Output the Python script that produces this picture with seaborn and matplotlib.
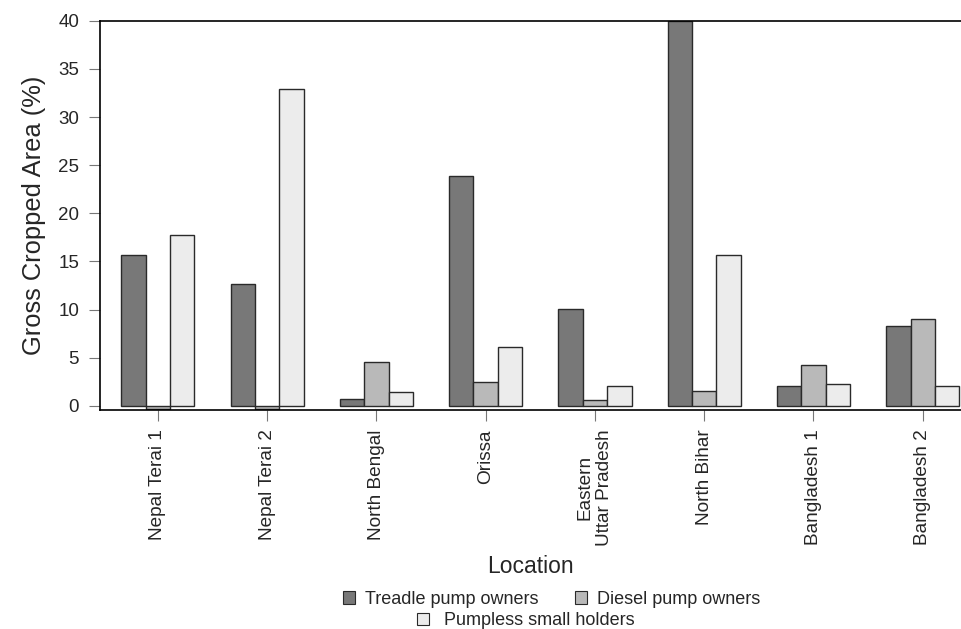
import numpy as np
import pandas as pd
import matplotlib
matplotlib.use("Agg")
import matplotlib.pyplot as plt
import seaborn as sns
from matplotlib.patches import Patch

sns.set_style("white")
plt.rcParams['font.family'] = ['Liberation Sans', 'DejaVu Sans']

locations = ["Nepal Terai 1", "Nepal Terai 2", "North Bengal", "Orissa",
             "Eastern\nUttar Pradesh", "North Bihar", "Bangladesh 1", "Bangladesh 2"]
groups = ["Treadle pump owners", "Diesel pump owners", "Pumpless small holders"]
treadle = [15.7, 12.7, 0.7, 23.9, 10.1, 40.0, 2.1, 8.25]
diesel = [-0.3, -0.3, 4.5, 2.5, 0.6, 1.55, 4.25, 9.0]
pumpless = [17.7, 32.9, 1.45, 6.1, 2.05, 15.7, 2.3, 2.05]
colors = ["#787878", "#b9b9b9", "#ececec"]

df = pd.DataFrame({
    "Location": locations * 3,
    "Group": [g for g in groups for _ in locations],
    "Value": treadle + diesel + pumpless,
})

fig = plt.figure(figsize=(9.61, 6.29), dpi=100)
ax = fig.add_axes([0.104, 0.348, 0.896, 0.619])

sns.barplot(data=df, x="Location", y="Value", hue="Group", hue_order=groups,
            order=locations, palette=colors, width=0.67, gap=0,
            edgecolor="#2a2a2a", linewidth=1.0, saturation=1, ax=ax, legend=False)

ax.set_xlim(-0.53, 7.35)
ax.set_ylim(-0.45, 40)
ax.set_yticks(np.arange(0, 41, 5))
ax.tick_params(axis="y", labelsize=13.5, length=8, color="#777777", direction="out", left=True, pad=7)
ax.tick_params(axis="x", labelsize=13.7, length=8, color="#777777", direction="out", bottom=True,
               labelrotation=90, pad=6)
for lab in ax.get_xticklabels():
    lab.set_verticalalignment("top")
    lab.set_multialignment("center")

for side in ["left", "bottom", "top"]:
    ax.spines[side].set_visible(True)
    ax.spines[side].set_color("black")
    ax.spines[side].set_linewidth(1.2)
ax.spines["right"].set_visible(False)

ax.set_ylabel("Gross Cropped Area (%)", fontsize=18.4, labelpad=9)
ax.set_xlabel("Location", fontsize=16.5, labelpad=6)

h = [Patch(facecolor=c, edgecolor="#2a2a2a", linewidth=0.8) for c in colors]
leg1 = fig.legend(h[:2], groups[:2], ncols=2, loc="center", bbox_to_anchor=(0.574, 0.047),
                  frameon=False, fontsize=13, handlelength=0.7, handleheight=0.7,
                  handletextpad=0.55, columnspacing=2.0)
leg2 = fig.legend(h[2:], groups[2:], loc="center", bbox_to_anchor=(0.547, 0.013),
                  frameon=False, fontsize=13, handlelength=0.7, handleheight=0.7,
                  handletextpad=0.8)

fig.savefig("out.png", dpi=100)
